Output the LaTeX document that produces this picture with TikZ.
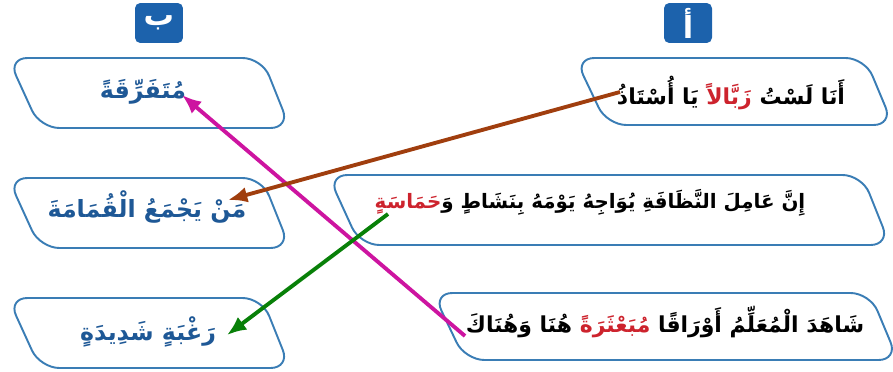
\documentclass[tikz,border=0pt]{standalone}
\usepackage{fontspec}
\usetikzlibrary{arrows.meta}
\newfontfamily\arabicfont[Script=Arabic]{DejaVu Sans}
\TeXXeTstate=1
\definecolor{boxblue}{RGB}{58,125,181}
\definecolor{tabblue}{RGB}{28,98,172}
\definecolor{textblue}{RGB}{30,88,150}
\definecolor{wordred}{RGB}{205,35,45}
\definecolor{arrbrown}{RGB}{160,62,14}
\definecolor{arrpink}{RGB}{205,20,160}
\definecolor{arrgreen}{RGB}{8,128,8}
\newcommand{\ar}[1]{\arabicfont\bfseries\beginR #1\endR}
% one word, set right to left (words are then laid out in visual order)
\newcommand{\rw}[1]{\hbox{\beginR #1\endR}}
\newcommand{\redw}[1]{\textcolor{wordred}{\rw{#1}}}
\newcommand{\slantbox}[4]{%
  \draw[boxline] (#1,#3) -- (#2,#3) -- (#2+28,#4) -- (#1+32,#4) -- cycle;}
\tikzset{
  boxline/.style={draw=boxblue, line width=1.1pt, rounded corners=11pt, fill=white},
  tab/.style={fill=tabblue, rounded corners=3pt, text=white,
    minimum width=0.96cm, minimum height=0.8cm, inner sep=0pt, font=\LARGE},
  lefttext/.style={text=textblue, font=\fontsize{13.5}{16}\selectfont, inner sep=0pt},
  righttext/.style={text=black, font=\arabicfont\bfseries\fontsize{12.5}{15}\selectfont, inner sep=0pt},
  link/.style={-{Latex[length=11pt,width=9pt]}, line width=2.2pt}
}
\begin{document}
\begin{tikzpicture}[x=0.02cm, y=-0.02cm]
  \useasboundingbox (0,0) rectangle (893,372);
  % column headers
  \node[tab] (tabB) at (159,23) {\ar{ب}};
  \node[tab] (tabA) at (688,23) {\ar{أ}};
  % left column boxes
  \slantbox{8}{262}{58}{128}
  \slantbox{8}{262}{178}{248}
  \slantbox{8}{262}{298}{368}
  % right column boxes
  \slantbox{575}{865}{58}{125}
  \slantbox{328}{862}{175}{245}
  \slantbox{433}{870}{293}{360}
  % texts
  \node[lefttext] (b1) at (143,92) {\ar{مُتَفَرِّقَةً}};
  \node[lefttext] (b2) at (147,207) {\ar{مَنْ يَجْمَعُ الْقُمَامَةَ}};
  \node[lefttext] (b3) at (148,332) {\ar{رَغْبَةٍ شَدِيدَةٍ}};
  \node[righttext] (a1) at (731,93)
    {\rw{أُسْتَاذُ} \rw{يَا} \redw{زَبَّالاً} \rw{لَسْتُ} \rw{أَنَا}};
  \node[righttext, font=\arabicfont\bfseries\fontsize{11.3}{14}\selectfont] (a2) at (590,203)
    {\redw{حَمَاسَةٍ}\rw{وَ} \rw{بِنَشَاطٍ} \rw{يَوْمَهُ} \rw{يُوَاجِهُ} \rw{النَّظَافَةِ} \rw{عَامِلَ} \rw{إِنَّ}};
  \node[righttext] (a3) at (665,322)
    {\rw{وَهُنَاكَ} \rw{هُنَا} \redw{مُبَعْثَرَةً} \rw{أَوْرَاقًا} \rw{الْمُعَلِّمُ} \rw{شَاهَدَ}};
  % link ends
  \coordinate (s1) at (620,92);
  \coordinate (t1) at (228,200);
  \coordinate (s2) at (388,214);
  \coordinate (t2) at (227,335);
  \coordinate (s3) at (465,336);
  \coordinate (t3) at (182,95);
  \draw[link, arrpink] (s3) -- (t3);
  \draw[link, arrbrown] (s1) -- (t1);
  \draw[link, arrgreen] (s2) -- (t2);
\end{tikzpicture}
\end{document}
